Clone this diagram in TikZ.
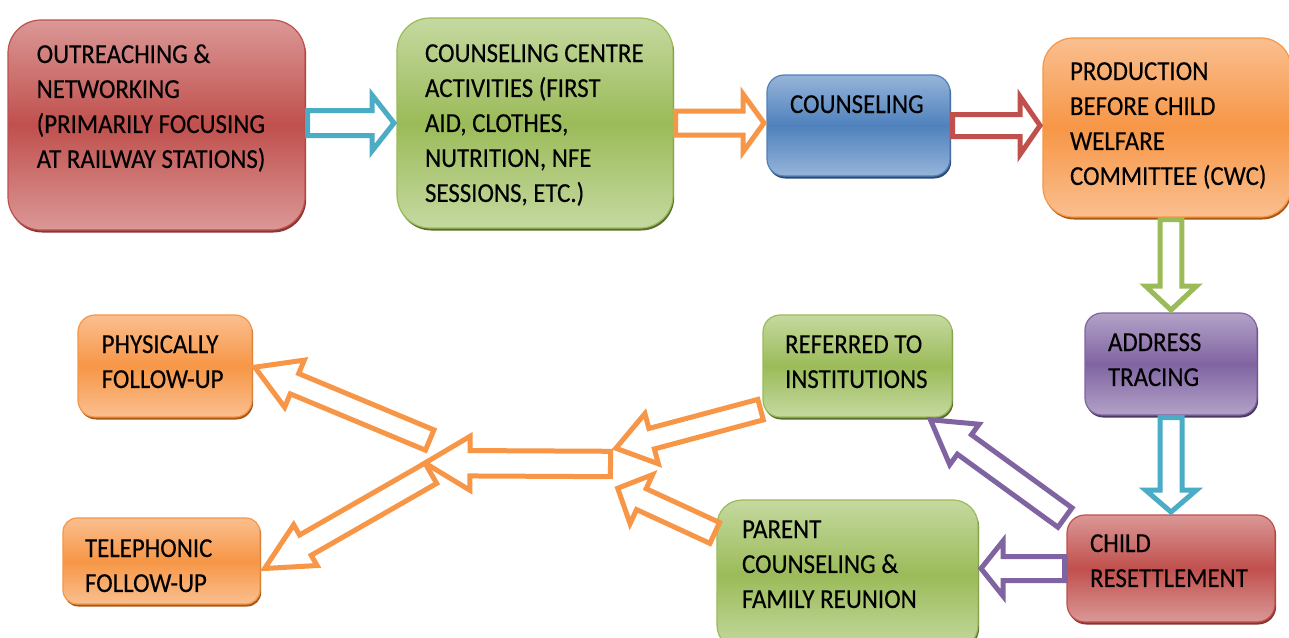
\documentclass[tikz,border=0pt]{standalone}
\usepackage{fontspec}
\setmainfont{Carlito}
\newfontfamily\lblfont{Carlito}[FakeBold=0.3]
\usetikzlibrary{calc,shadows}
\definecolor{redM}{HTML}{C0504D}\definecolor{redL}{HTML}{DA9896}\definecolor{redS}{HTML}{8A3533}
\definecolor{grnM}{HTML}{9BBB59}\definecolor{grnL}{HTML}{C5D9A0}\definecolor{grnS}{HTML}{5A6F2E}
\definecolor{bluM}{HTML}{4F81BD}\definecolor{bluL}{HTML}{96B4D8}\definecolor{bluS}{HTML}{2B4B72}
\definecolor{orgM}{HTML}{F79646}\definecolor{orgL}{HTML}{FABF8F}\definecolor{orgS}{HTML}{A65A1A}
\definecolor{purM}{HTML}{8064A2}\definecolor{purL}{HTML}{B3A2C7}\definecolor{purS}{HTML}{4A3A60}
\definecolor{tealA}{HTML}{4BACC6}
\tikzset{
  tile/.style n args={3}{draw=#1, line width=1.2pt, top color=#2, bottom color=#2, middle color=#1,
    drop shadow={shadow xshift=1.2pt, shadow yshift=-2.5pt, opacity=1, fill=#3},
    anchor=north west, inner sep=0pt, outer sep=0pt},
  lbl/.style={anchor=north west, inner sep=0pt, outer sep=0pt, align=left, transform shape,
    font=\lblfont\fontsize{24.9}{31.8}\selectfont, text=black},
  barrow/.style={line width=5pt, fill=white, line join=miter, miter limit=10},
}
\newcommand\blockarrow[6]{%
  \path (#2) coordinate (baA) (#3) coordinate (baB);
  \path ($(baA)!2.5pt!(baB)$) coordinate (baT) ($(baB)!3pt!(baA)$) coordinate (baP);
  \path ($(baP)!#6!(baT)$) coordinate (baH);
  \draw[barrow, draw=#1] ($(baT)!#4!90:(baP)$) -- ($(baH)!#4!90:(baP)$) -- ($(baH)!#5!90:(baP)$)
    -- (baP) -- ($(baH)!#5!-90:(baP)$) -- ($(baH)!#4!-90:(baP)$) -- ($(baT)!#4!-90:(baP)$) -- cycle;
}
\newcommand\strt{\rule{0pt}{20pt}}
% label: name, x, first baseline y, text
\newcommand\lab[4]{%
  \begin{scope}[shift={(#2,#3)}, yscale=1.1]
    \node[lbl] (#1) at (0,-20) {\strt #4};
  \end{scope}}
\begin{document}
\begin{tikzpicture}[x=1pt,y=-1pt]
\fill[white] (0,0) rectangle (1289,637);
\useasboundingbox (0,0) rectangle (1289,637);
% boxes
\node[tile={redM}{redL}{redS}, minimum width=297pt, minimum height=210pt, rounded corners=33pt] (b1) at (8,20) {};
\node[tile={grnM}{grnL}{grnS}, minimum width=276pt, minimum height=210pt, rounded corners=33pt] (b2) at (397,18) {};
\node[tile={bluM}{bluL}{bluS}, minimum width=183pt, minimum height=101pt, rounded corners=17pt] (b3) at (767,75) {};
\node[tile={orgM}{orgL}{orgS}, minimum width=248pt, minimum height=179pt, rounded corners=30pt] (b4) at (1043,38) {};
\node[tile={purM}{purL}{purS}, minimum width=172pt, minimum height=102pt, rounded corners=17pt] (b5) at (1085,313) {};
\node[tile={redM}{redL}{redS}, minimum width=208pt, minimum height=107pt, rounded corners=18pt] (b6) at (1067,515) {};
\node[tile={grnM}{grnL}{grnS}, minimum width=261pt, minimum height=150pt, rounded corners=25pt] (b7) at (717,500) {};
\node[tile={grnM}{grnL}{grnS}, minimum width=189pt, minimum height=102pt, rounded corners=17pt] (b8) at (763,315) {};
\node[tile={orgM}{orgL}{orgS}, minimum width=174pt, minimum height=102pt, rounded corners=17pt] (b9) at (78,315) {};
\node[tile={orgM}{orgL}{orgS}, minimum width=197pt, minimum height=86pt, rounded corners=14pt] (b10) at (63,518) {};
% labels
\lab{t1}{36.7}{63}{OUTREACHING \&\\NETWORKING\\(PRIMARILY FOCUSING\\AT RAILWAY STATIONS)}
\lab{t2}{425}{62}{COUNSELING CENTRE\\ACTIVITIES (FIRST\\AID, CLOTHES,\\NUTRITION, NFE\\SESSIONS, ETC.)}
\lab{t3}{790}{113}{COUNSELING}
\lab{t4}{1070}{80}{PRODUCTION\\BEFORE CHILD\\WELFARE\\COMMITTEE (CWC)}
\lab{t5}{1108}{351}{ADDRESS\\TRACING}
\lab{t6}{1090}{552}{CHILD\\RESETTLEMENT}
\lab{t7}{742}{538}{PARENT\\COUNSELING \&\\FAMILY REUNION}
\lab{t8}{785}{353}{REFERRED TO\\INSTITUTIONS}
\lab{t9}{101.7}{353}{PHYSICALLY\\FOLLOW-UP}
\lab{t10}{85}{557}{TELEPHONIC\\FOLLOW-UP}
% helper coordinates
\coordinate (c7a) at ($(b6.north west)+(0,4)$);
\coordinate (c7b) at ($(b8.south east)+(-24,1)$);
\coordinate (c8a) at ($(b8.south west)+(0,-8)$);
\coordinate (j1a) at (613,449);
\coordinate (c9a) at ($(b7.north west)+(0,34)$);
\coordinate (j1b) at (615,487);
\coordinate (j1) at (613,464);
\coordinate (j2) at (422,463);
\coordinate (j2a) at (432,441);
\coordinate (j2b) at (433,472);
\coordinate (c12b) at ($(b10.east)+(2,9)$);
% arrows
\blockarrow{tealA}{b1.east |- b2.west}{b2.west}{12.5pt}{28pt}{22pt}
\blockarrow{orgM}{b2.east}{b3.west |- b2.east}{12pt}{29pt}{21pt}
\blockarrow{redM}{b3.east}{b4.west |- b3.east}{11pt}{29pt}{20pt}
\blockarrow{grnM}{b5.north |- b4.south}{b5.north}{10.8pt}{25.5pt}{24pt}
\blockarrow{tealA}{b5.south}{b6.north -| b5.south}{11pt}{25.5pt}{22pt}
\blockarrow{purM}{b6.west}{b7.east |- b6.west}{12pt}{27.5pt}{22pt}
\blockarrow{purM}{c7a}{c7b}{12pt}{25pt}{42pt}
\blockarrow{orgM}{c8a}{j1a}{10.6pt}{26pt}{37pt}
\blockarrow{orgM}{c9a}{j1b}{11.5pt}{27pt}{26pt}
\blockarrow{orgM}{j1}{j2}{12.7pt}{27pt}{45pt}
\blockarrow{orgM}{j2a}{b9.east}{11pt}{25.5pt}{43pt}
\blockarrow{orgM}{j2b}{c12b}{11.7pt}{23.5pt}{47pt}
\end{tikzpicture}
\end{document}
